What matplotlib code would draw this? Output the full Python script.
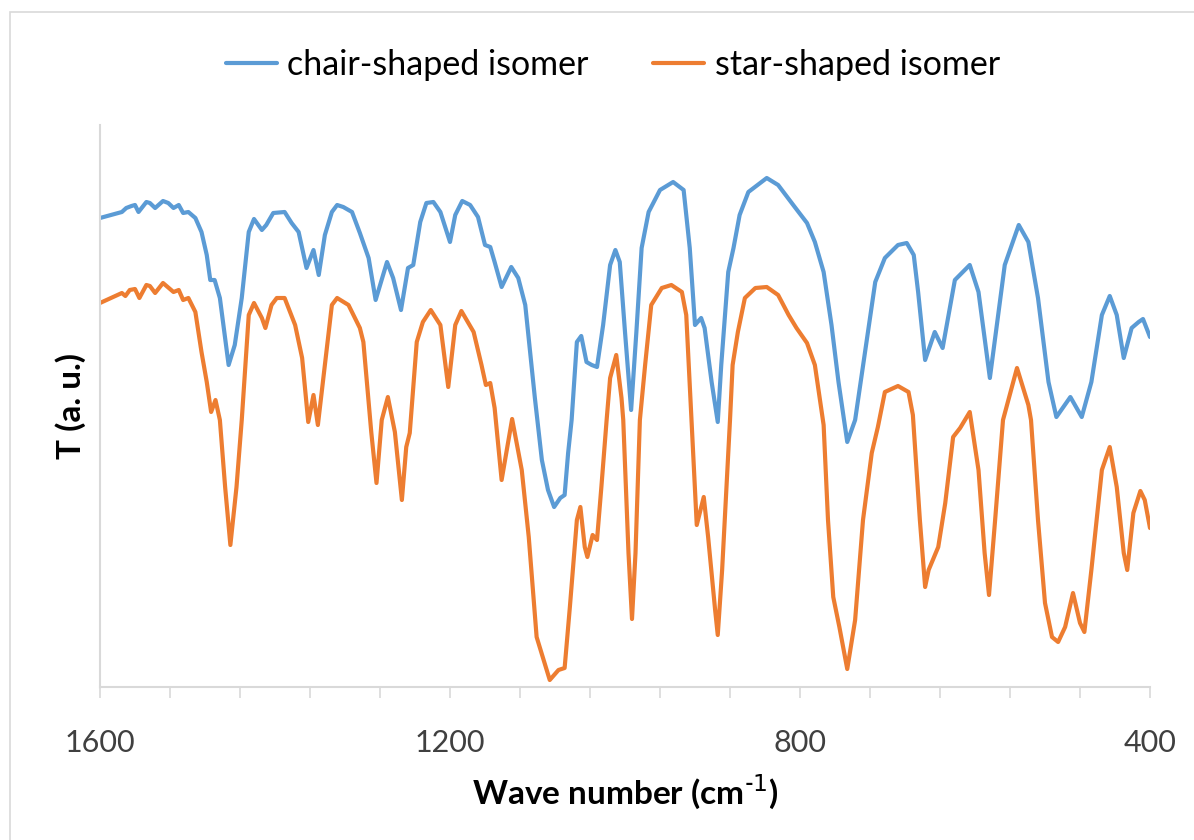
import matplotlib.pyplot as plt
from matplotlib.patches import Rectangle
import numpy as np

# wave numbers (cm-1) and transmittance (a. u.)
chair_wn = [1600, 1575, 1570, 1564, 1560, 1556, 1547, 1543, 1537, 1528, 1522, 1516, 1510, 1505,
            1499, 1491, 1484, 1478, 1474, 1469, 1463, 1453, 1446, 1438, 1430, 1424, 1415, 1410,
            1402, 1389, 1381, 1373, 1364, 1356, 1350, 1343, 1335, 1329, 1322, 1312, 1303, 1293,
            1285, 1272, 1265, 1256, 1248, 1242, 1234, 1227, 1219, 1211, 1200, 1194, 1186, 1177,
            1168, 1160, 1154, 1149, 1141, 1130, 1122, 1114, 1103, 1095, 1088, 1081, 1074, 1069,
            1065, 1061, 1055, 1050, 1044, 1038, 1032, 1025, 1017, 1011, 1006, 1000, 993, 987,
            981, 973, 960, 945, 933, 926, 920, 913, 909, 901, 894, 890, 882, 876, 869, 859,
            838, 825, 806, 792, 783, 773, 764, 756, 746, 737, 714, 703, 688, 678, 670, 665,
            657, 646, 637, 623, 606, 596, 583, 566, 550, 539, 528, 516, 507, 491, 478, 467,
            455, 446, 438, 430, 421, 413, 408, 400]
chair_t = [469, 475, 479, 481, 482, 475, 485, 484, 479, 486, 484, 479, 482, 474,
           475, 469, 455, 432, 407, 407, 389, 322, 342, 389, 455, 468, 457, 462,
           474, 475, 464, 455, 419, 437, 412, 452, 475, 482, 480, 475, 454, 429,
           387, 425, 409, 377, 419, 422, 465, 484, 485, 475, 445, 472, 486, 482,
           470, 442, 440, 425, 400, 420, 409, 382, 289, 227, 197, 180, 189, 192,
           234, 267, 345, 351, 325, 322, 320, 362, 422, 437, 425, 355, 277, 355,
           439, 475, 497, 505, 497, 439, 362, 369, 359, 305, 265, 322, 415, 439, 472, 495,
           509, 502, 480, 464, 445, 415, 362, 305, 245, 267, 405, 429, 442, 444, 432, 395,
           327, 355, 339, 407, 422, 395, 309, 422, 462, 445, 389, 305, 270, 290, 270, 305,
           372, 391, 372, 329, 359, 365, 368, 350]

star_wn = [1600, 1575, 1571, 1566, 1560, 1555, 1547, 1543, 1537, 1528, 1516, 1510, 1505, 1499,
           1491, 1484, 1478, 1473, 1468, 1463, 1457, 1451, 1444, 1438, 1430, 1424, 1415, 1411,
           1404, 1398, 1389, 1377, 1369, 1362, 1356, 1351, 1343, 1335, 1329, 1316, 1303, 1299,
           1290, 1284, 1278, 1271, 1263, 1255, 1250, 1246, 1238, 1231, 1222, 1211, 1202, 1194,
           1187, 1173, 1164, 1159, 1154, 1149, 1141, 1129, 1118, 1110, 1101, 1086, 1076, 1069,
           1063, 1055, 1051, 1046, 1043, 1037, 1032, 1027, 1021, 1017, 1010, 1004, 1002, 996,
           992, 988, 983, 977, 970, 958, 947, 935, 930, 924, 918, 910, 905, 897, 894, 889,
           884, 880, 877, 871, 863, 851, 838, 825, 813, 804, 792, 783, 773, 768, 762, 755,
           746, 737, 728, 718, 711, 703, 688, 676, 671, 663, 657, 653, 642, 634, 625, 617,
           606, 596, 589, 584, 577, 568, 552, 539, 536, 528, 520, 512, 505, 497, 488, 480,
           475, 467, 455, 446, 438, 430, 426, 419, 411, 406, 400]
star_t = [384, 394, 391, 397, 398, 389, 402, 401, 394, 404, 395, 397, 387, 389,
          375, 335, 305, 275, 287, 267, 200, 142, 200, 267, 372, 384, 369, 359,
          382, 389, 389, 362, 329, 265, 292, 262, 322, 382, 389, 382, 359, 345,
          255, 204, 267, 290, 255, 187, 240, 254, 345, 365, 377, 362, 300, 362,
          376, 355, 322, 302, 304, 279, 207, 268, 217, 150, 50, 7, 17, 19,
          80, 167, 180, 140, 130, 152, 147, 200, 267, 309, 332, 289, 267, 134,
          68, 134, 267, 322, 382, 399, 402, 395, 372, 267, 162, 190, 150, 77, 52, 117,
          200, 267, 322, 355, 389, 399, 400, 392, 372, 359, 344, 322, 262, 167, 90, 60,
          18, 67, 167, 234, 260, 295, 301, 295, 272, 167, 100, 117, 140, 184, 250, 259,
          275, 217, 134, 92, 167, 267, 319, 282, 267, 167, 84, 50, 45, 60, 94, 64,
          55, 117, 217, 240, 200, 134, 117, 174, 196, 187, 159]

plt.rcParams['font.family'] = ['Lato', 'DejaVu Sans']

fig = plt.figure(figsize=(11.94, 8.4), dpi=100)
ax = fig.add_axes([100 / 1194, 1 - 687 / 840, 1050 / 1194, 562 / 840])

# chart area border like the spreadsheet export
fig.patches.append(Rectangle((10 / 1194, -0.01), 1.0, 1 - 12 / 840 + 0.01, transform=fig.transFigure,
                             fill=False, edgecolor='#d9d9d9', linewidth=1.2))

ax.plot(chair_wn, chair_t, color='#5b9bd5', linewidth=3.0, label='chair-shaped isomer',
        solid_joinstyle='round', solid_capstyle='round')
ax.plot(star_wn, star_t, color='#ed7d31', linewidth=3.0, label='star-shaped isomer',
        solid_joinstyle='round', solid_capstyle='round')

ax.set_xlim(1600, 400)
ax.set_ylim(0, 562)
ax.set_xticks(np.arange(1600, 399, -400))
ax.set_xticks(np.arange(1600, 399, -80), minor=True)
ax.tick_params(axis='x', which='both', length=8, width=1.2, color='#d9d9d9', direction='out')
ax.tick_params(axis='x', which='major', labelsize=22, labelcolor='#404040', pad=22)
ax.set_yticks([])

for side in ['top', 'right']:
    ax.spines[side].set_visible(False)
for side in ['left', 'bottom']:
    ax.spines[side].set_color('#d9d9d9')
    ax.spines[side].set_linewidth(1.5)

ax.set_xlabel('Wave number (cm$^{\\mathregular{\u2010}1}$)', fontsize=24, fontweight='bold', labelpad=12)
ax.set_ylabel('T (a. u.)', fontsize=24, fontweight='bold', labelpad=10)

fig.legend(loc='center', bbox_to_anchor=(613 / 1194, 1 - 65 / 840), ncol=2, frameon=False,
           fontsize=24.5, handlelength=1.5, columnspacing=1.9, handletextpad=0.3)

plt.savefig('out.png', dpi=100)
